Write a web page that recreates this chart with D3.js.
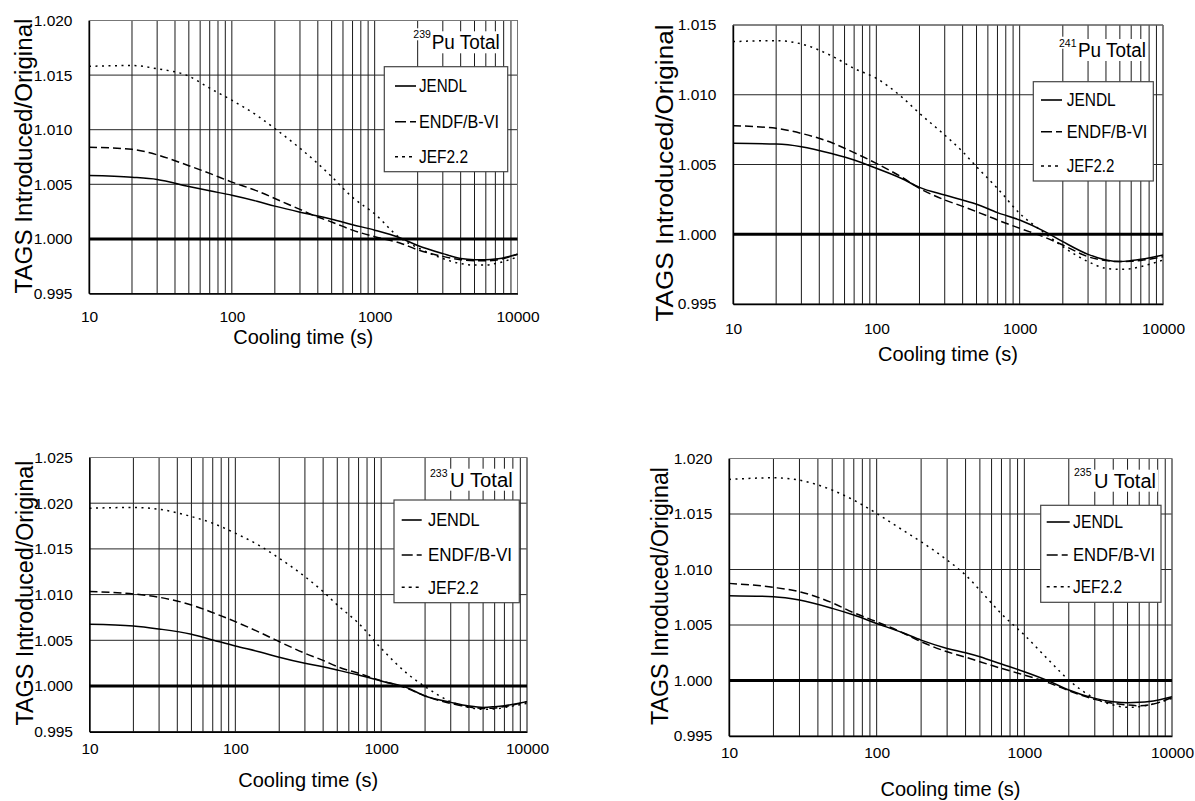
<!DOCTYPE html>
<html>
<head>
<meta charset="utf-8">
<script src="https://cdn.jsdelivr.net/npm/d3@7"></script>
<style>
  body { margin: 0; background: #fff; }
  svg { display: block; }
  text { font-family: "Liberation Sans", Arial, sans-serif; fill: #000; }
</style>
</head>
<body>
<svg id="fig" width="1195" height="801"></svg>
<script>
// ---- data ---------------------------------------------------------------
const coolingTime = [10, 20, 30, 50, 70, 100, 150, 200, 300, 400, 500, 700,
                     1000, 1500, 2000, 3000, 4000, 5000, 6000, 7000, 10000];
const seriesNames = ["JENDL", "ENDF/B-VI", "JEF2.2"];
const xTickValues = [10, 100, 1000, 10000];
const referenceLevel = [1.000, 1.000];

const yTicksPu239 = [0.995, 1.000, 1.005, 1.010, 1.015, 1.020];
const yTicksPu241 = [0.995, 1.000, 1.005, 1.010, 1.015];
const yTicksU233  = [0.995, 1.000, 1.005, 1.010, 1.015, 1.020, 1.025];
const yTicksU235  = [0.995, 1.000, 1.005, 1.010, 1.015, 1.020];

const pu239Jendl = [1.0058, 1.00565, 1.00545, 1.0048, 1.0044, 1.0040, 1.00345, 1.0030, 1.00245, 1.0021, 1.0018, 1.0013, 1.0008, 1.0001, 0.9994, 0.99865, 0.9982, 0.9981, 0.9981, 0.99815, 0.9986];
const pu239Endf  = [1.0084, 1.0082, 1.0077, 1.0067, 1.0060, 1.0052, 1.0044, 1.0037, 1.0027, 1.0020, 1.00155, 1.0008, 1.0002, 0.99963, 0.9990, 0.9984, 0.9981, 0.9980, 0.9980, 0.99805, 0.9986];
const pu239Jef   = [1.0158, 1.01588, 1.01558, 1.0149, 1.0138, 1.0127, 1.0113, 1.0101, 1.0083, 1.0069, 1.0057, 1.0038, 1.0023, 1.0001, 0.9992, 0.9982, 0.99774, 0.9976, 0.9976, 0.99774, 0.99835];

const pu241Jendl = [1.00652, 1.00647, 1.00628, 1.00575, 1.00532, 1.00473, 1.0040, 1.00336, 1.00281, 1.00245, 1.00215, 1.00155, 1.00102, 1.00019, 0.99947, 0.99856, 0.99816, 0.99804, 0.99811, 0.9982, 0.99851];
const pu241Endf  = [1.00778, 1.00759, 1.00723, 1.00652, 1.00585, 1.00508, 1.0041, 1.00329, 1.00246, 1.0020, 1.00162, 1.00102, 1.00043, 0.99978, 0.99923, 0.99839, 0.99811, 0.99804, 0.99806, 0.99812, 0.99839];
const pu241Jef   = [1.01381, 1.01388, 1.01364, 1.01273, 1.01189, 1.01118, 1.00985, 1.00867, 1.00711, 1.00592, 1.00484, 1.00329, 1.0015, 1.00007, 0.99911, 0.99804, 0.99756, 0.99749, 0.99753, 0.99768, 0.99815];

const u233Jendl = [1.00675, 1.00657, 1.00624, 1.00566, 1.00504, 1.00438, 1.0037, 1.00314, 1.00248, 1.0021, 1.00175, 1.0012, 1.00055, 0.99982, 0.99891, 0.99821, 0.99781, 0.99766, 0.99774, 0.99785, 0.99829];
const u233Endf  = [1.01033, 1.01007, 1.00971, 1.00887, 1.00803, 1.00704, 1.0058, 1.00485, 1.00358, 1.0028, 1.00212, 1.00139, 1.00058, 0.99975, 0.99891, 0.9981, 0.9977, 0.99755, 0.9976, 0.99775, 0.99829];
const u233Jef   = [1.01945, 1.01953, 1.01934, 1.01854, 1.01781, 1.01672, 1.01526, 1.01398, 1.01197, 1.01033, 1.00887, 1.00686, 1.00412, 1.00139, 0.99993, 0.99829, 0.99766, 0.99745, 0.99748, 0.99765, 0.9981];

const u235Jendl = [1.00764, 1.00755, 1.00725, 1.0065, 1.0059, 1.00514, 1.0043, 1.00364, 1.00289, 1.0025, 1.00214, 1.00148, 1.00079, 0.99989, 0.99914, 0.99839, 0.99809, 0.998, 0.99803, 0.9981, 0.99854];
const u235Endf  = [1.00875, 1.00839, 1.008, 1.007, 1.0061, 1.00529, 1.0043, 1.00349, 1.00259, 1.0021, 1.00169, 1.00109, 1.00049, 0.99974, 0.99908, 0.9983, 0.99795, 0.99779, 0.99773, 0.9978, 0.99848];
const u235Jef   = [1.01811, 1.01826, 1.01805, 1.01715, 1.01625, 1.01505, 1.01355, 1.0125, 1.01085, 1.0095, 1.00814, 1.0060, 1.0041, 1.00169, 1.00004, 0.99839, 0.99779, 0.99758, 0.99764, 0.9978, 0.99839];

const panels = [
  { mass: "239", element: "Pu", yLabel: "TAGS Introduced/Original", yTicks: yTicksPu239, series: [pu239Jendl, pu239Endf, pu239Jef] },
  { mass: "241", element: "Pu", yLabel: "TAGS Introduced/Original", yTicks: yTicksPu241, series: [pu241Jendl, pu241Endf, pu241Jef] },
  { mass: "233", element: "U",  yLabel: "TAGS Introduced/Original", yTicks: yTicksU233,  series: [u233Jendl, u233Endf, u233Jef] },
  { mass: "235", element: "U",  yLabel: "TAGS Inroduced/Original",  yTicks: yTicksU235,  series: [u235Jendl, u235Endf, u235Jef] }
];

// ---- layout ---------------------------------------------------------------
const layout = [
  { left: 89, right: 517.5, top: 20.5, bottom: 293.5, xLabPad: 17.5, xTitleY: 344, yTitleX: 32, yTitleY: 156, yTitleLen: 275,
    legend: { x: 384.3, y: 66.7, w: 123.4, h: 105, rows: [86, 121.7, 156.7], lineX: 395, lineW: 21, textX: 419, lens: [48, 80, 49] },
    title: { supX: 413.3, supY: 38.3, mainX: 431.7, mainY: 49.3, len: 68 } },
  { left: 733, right: 1163, top: 25, bottom: 304, xLabPad: 18.5, xTitleY: 361, yTitleX: 673, yTitleY: 173, yTitleLen: 297,
    legend: { x: 1033.3, y: 81.7, w: 120, h: 99.3, rows: [100, 131.7, 166], lineX: 1041, lineW: 21, textX: 1066.7, lens: [49, 80.7, 47.7] },
    title: { supX: 1059, supY: 46.7, mainX: 1078, mainY: 57, len: 68 } },
  { left: 89.5, right: 527, top: 457.5, bottom: 731.7, xLabPad: 11, xTitleY: 787, yTitleX: 33, yTitleY: 593, yTitleLen: 265,
    legend: { x: 394, y: 500, w: 125.3, h: 102.7, rows: [520, 555, 587.3], lineX: 401.7, lineW: 20, textX: 428, lens: [51.7, 84, 50.7] },
    title: { supX: 430, supY: 476.7, mainX: 450, mainY: 486.7, len: 62.7 } },
  { left: 729, right: 1172, top: 458.5, bottom: 736, xLabPad: 10.5, xTitleY: 796, yTitleX: 668, yTitleY: 596, yTitleLen: 258,
    legend: { x: 1040.7, y: 505.3, w: 120.3, h: 97, rows: [522, 555, 586.7], lineX: 1046.7, lineW: 23, textX: 1073, lens: [50, 82, 49] },
    title: { supX: 1074, supY: 476, mainX: 1094, mainY: 487.7, len: 62 } }
];

const plotDash   = [null, "8,4", "2,4.5"];
const legendDash = [null, "11,4,6,100", "3,4"];
const tickFont = "15.5px";

// ---- drawing --------------------------------------------------------------
const svg = d3.select("#fig");
svg.append("rect").attr("width", 1195).attr("height", 801).attr("fill", "#fff");

panels.forEach((p, i) => {
  const L = layout[i];
  const g = svg.append("g");

  const x = d3.scaleLog().domain([10, 10000]).range([L.left, L.right]);
  const y = d3.scaleLinear()
    .domain([p.yTicks[0], p.yTicks[p.yTicks.length - 1]])
    .range([L.bottom, L.top]);

  // grid: every 1..9 multiple of each decade, and every y tick
  g.append("g").selectAll("line").data(x.ticks()).join("line")
    .attr("x1", d => x(d)).attr("x2", d => x(d))
    .attr("y1", L.top).attr("y2", L.bottom)
    .attr("stroke", "#1a1a1a").attr("stroke-width", 1);
  g.append("g").selectAll("line").data(p.yTicks).join("line")
    .attr("x1", L.left).attr("x2", L.right)
    .attr("y1", d => y(d)).attr("y2", d => y(d))
    .attr("stroke", "#262626").attr("stroke-width", 1);

  // plot-area border (top / right)
  g.append("path")
    .attr("d", `M${L.left},${L.top}H${L.right}V${L.bottom}`)
    .attr("fill", "none").attr("stroke", "#777").attr("stroke-width", 1);

  // axes
  const xAxis = d3.axisBottom(x).tickValues(xTickValues).tickSize(0)
    .tickPadding(L.xLabPad).tickFormat(d3.format("d"));
  const gx = g.append("g").attr("transform", `translate(0,${L.bottom})`).call(xAxis);
  gx.select(".domain").attr("stroke", "#000").attr("stroke-width", 1.4);
  gx.selectAll("text").style("font-size", tickFont).style("font-family", '"Liberation Sans", Arial, sans-serif');

  const yAxis = d3.axisLeft(y).tickValues(p.yTicks).tickSize(0)
    .tickPadding(16.5).tickFormat(d3.format(".3f"));
  const gy = g.append("g").attr("transform", `translate(${L.left},0)`).call(yAxis);
  gy.select(".domain").attr("stroke", "#000").attr("stroke-width", 1.4);
  gy.selectAll("text").style("font-size", tickFont).style("font-family", '"Liberation Sans", Arial, sans-serif');

  // axis titles
  g.append("text")
    .attr("x", (L.left + L.right) / 2).attr("y", L.xTitleY)
    .attr("text-anchor", "middle").style("font-size", "20px")
    .attr("textLength", 140).attr("lengthAdjust", "spacingAndGlyphs")
    .text("Cooling time (s)");
  g.append("text")
    .attr("transform", `translate(${L.yTitleX},${L.yTitleY}) rotate(-90)`)
    .attr("text-anchor", "middle").style("font-size", "23px")
    .attr("textLength", L.yTitleLen).attr("lengthAdjust", "spacingAndGlyphs")
    .text(p.yLabel);

  // unity reference line
  g.append("line")
    .attr("x1", x(10)).attr("x2", x(10000))
    .attr("y1", y(referenceLevel[0])).attr("y2", y(referenceLevel[1]))
    .attr("stroke", "#000").attr("stroke-width", 3);

  // curves
  const line = d3.line()
    .x((d, k) => x(coolingTime[k]))
    .y(d => y(d))
    .curve(d3.curveMonotoneX);
  p.series.forEach((vals, s) => {
    g.append("path").datum(vals)
      .attr("d", line)
      .attr("fill", "none").attr("stroke", "#000")
      .attr("stroke-width", 1.5)
      .attr("stroke-dasharray", plotDash[s]);
  });

  // nuclide title with white background
  const T = L.title;
  const tg = g.append("g");
  const sup = tg.append("text").attr("x", T.supX).attr("y", T.supY)
    .style("font-size", "10.5px").text(p.mass);
  const main = tg.append("text").attr("x", T.mainX).attr("y", T.mainY)
    .style("font-size", "20px")
    .attr("textLength", T.len).attr("lengthAdjust", "spacingAndGlyphs")
    .text(p.element + " Total");
  [sup, main].forEach(t => {
    const b = t.node().getBBox();
    tg.insert("rect", "text")
      .attr("x", b.x - 1).attr("y", b.y).attr("width", b.width + 3).attr("height", b.height)
      .attr("fill", "#fff");
  });

  // legend
  const Lg = L.legend;
  const lg = g.append("g");
  lg.append("rect").attr("x", Lg.x).attr("y", Lg.y).attr("width", Lg.w).attr("height", Lg.h)
    .attr("fill", "#fff").attr("stroke", "#444").attr("stroke-width", 1.2);
  seriesNames.forEach((name, s) => {
    const cy = Lg.rows[s];
    lg.append("line")
      .attr("x1", Lg.lineX).attr("x2", Lg.lineX + Lg.lineW)
      .attr("y1", cy).attr("y2", cy)
      .attr("stroke", "#000").attr("stroke-width", 1.6)
      .attr("stroke-dasharray", legendDash[s]);
    lg.append("text").attr("x", Lg.textX).attr("y", cy + 6.3)
      .style("font-size", "17.5px")
      .attr("textLength", Lg.lens[s]).attr("lengthAdjust", "spacingAndGlyphs")
      .text(name);
  });
});
</script>
</body>
</html>
